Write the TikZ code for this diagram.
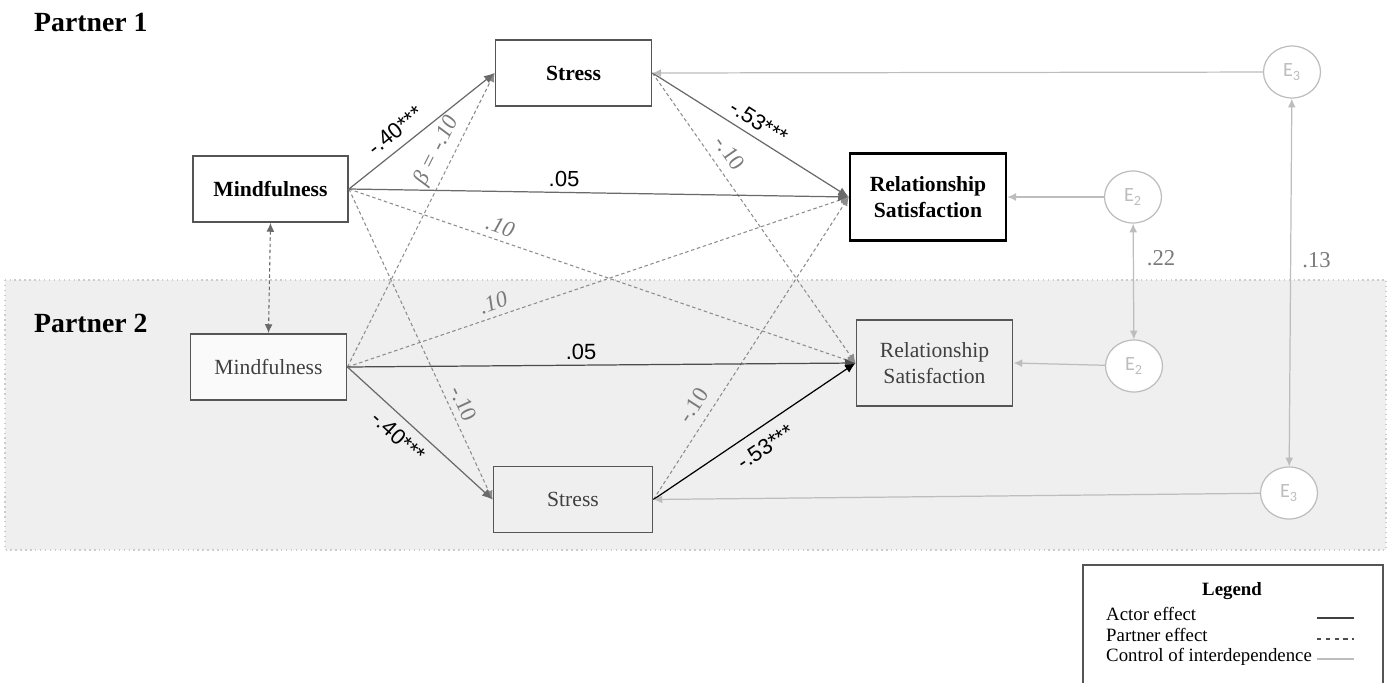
\documentclass[tikz,border=0pt]{standalone}
\usepackage{fontspec}
\setmainfont{Liberation Serif}
\setsansfont{Liberation Sans}
\newfontfamily\errfont{Carlito}
\usetikzlibrary{
  arrows.meta,
  positioning,
  shapes.geometric
}
\definecolor{bandgray}{HTML}{EFEFEF}
\definecolor{edgegray}{HTML}{6A6A6A}
\definecolor{dashgray}{HTML}{8C8C8C}
\definecolor{ctrlgray}{HTML}{BDBDBD}
\definecolor{boxgray}{HTML}{555555}
\definecolor{txtgray}{HTML}{7A7A7A}

\begin{document}
\begin{tikzpicture}[
  x=0.02cm, y=-0.02cm,
  var/.style={draw=boxgray, line width=1.1pt, minimum width=3.12cm, minimum height=1.32cm,
    align=center, inner sep=2pt, font=\fontsize{12.3}{14.5}\selectfont},
  err/.style={ellipse, draw=ctrlgray, line width=0.7pt, fill=white, minimum width=1.14cm,
    minimum height=1.04cm, inner sep=0pt, text=ctrlgray, font=\errfont\fontsize{11.5}{12}\selectfont},
  actor/.style={-{Latex[length=6pt,width=5pt]}, line width=0.7pt, edgegray},
  partner/.style={-{Latex[length=5pt,width=4.5pt]}, line width=0.6pt, dashgray,
    dash pattern=on 2pt off 1.5pt},
  control/.style={-{Latex[length=5pt,width=4.5pt]}, line width=0.7pt, ctrlgray},
  coef/.style={sloped, text=black, inner sep=2pt, font=\sffamily\fontsize{12.5}{14}\selectfont},
  weak/.style={sloped, text=txtgray, font=\fontsize{12.9}{14}\selectfont},
  title/.style={anchor=west, font=\bfseries\fontsize{15.8}{18}\selectfont}
]
  \useasboundingbox (0,0) rectangle (1387,683);

  % Partner 2 band
  \fill[bandgray] (5,280) rectangle (1386,550);
  \draw[black!20, dotted, line width=0.8pt] (5,280) rectangle (1386,550);

  \node[title] (title_1) at (28,22) {Partner 1};
  \node[title] (title_2) at (28,323) {Partner 2};

  % Partner 1
  \node[var, fill=white, font=\bfseries\fontsize{12.3}{14.5}\selectfont,
    minimum width=3.1cm] (mind_1) at (270.5,189) {Mindfulness};
  \node[var, fill=white, font=\bfseries\fontsize{12.3}{14.5}\selectfont] (stress_1) at (573.5,73) {Stress};
  \node[var, fill=white, draw=black, line width=1.4pt, minimum height=1.74cm,
    font=\bfseries\fontsize{12.3}{14.5}\selectfont] (sat_1) at (928,197) {Relationship\\Satisfaction};

  % Partner 2
  \node[var, fill=black!2, text=black!75] (mind_2) at (268.5,367) {Mindfulness};
  \node[var, fill=bandgray, text=black!75, minimum width=3.18cm] (stress_2) at (573,499.5) {Stress};
  \node[var, fill=bandgray, text=black!75, minimum height=1.72cm] (sat_2) at (934.5,363) {Relationship\\Satisfaction};

  % Errors
  \node[err] (e3_1) at (1292,72) {E\textsubscript{3}};
  \node[err] (e2_1) at (1133,197) {E\textsubscript{2}};
  \node[err] (e2_2) at (1134,366) {E\textsubscript{2}};
  \node[err] (e3_2) at (1289,493) {E\textsubscript{3}};

  % Partner effects
  \draw[partner] (mind_1.east) -- node[weak, pos=0.71, above] {-.10} (stress_2.west);
  \draw[partner] (mind_1.east) -- node[weak, pos=0.29, above, font=\itshape\fontsize{12.9}{14}\selectfont] {.10} (sat_2.west);
  \draw[partner] (mind_2.east) -- node[weak, pos=0.71, above, font=\itshape\fontsize{12.9}{14}\selectfont] {β = -.10} (stress_1.west);
  \draw[partner] (mind_2.east) -- node[weak, pos=0.30, above, font=\itshape\fontsize{12.9}{14}\selectfont] {.10} (sat_1.west);
  \draw[partner] (stress_1.east) -- node[weak, pos=0.31, above=2pt] {-.10} (sat_2.west);
  \draw[partner] (stress_2.east) -- node[weak, pos=0.28, above=2pt] {-.10} (sat_1.west);
  \draw[partner, {Latex[length=5pt,width=4.5pt]}-{Latex[length=5pt,width=4.5pt]}, edgegray]
    (mind_1.south) -- (mind_2.north);

  % Actor effects
  \draw[actor] (mind_1.east) -- node[coef, pos=0.39, above=3pt] {-.40***} (stress_1.west);
  \draw[actor] (mind_1.east) -- node[coef, pos=0.43, above=1pt] {.05} (sat_1.west);
  \draw[actor] (stress_1.east) -- node[coef, pos=0.5, above=2pt] {-.53***} (sat_1.west);
  \draw[actor, black!70] (mind_2.east) -- node[coef, pos=0.46, above=1pt] {.05} (sat_2.west);
  \draw[actor] (mind_2.east) -- node[coef, pos=0.43, below=3pt] {-.40***} (stress_2.west);
  \draw[actor, black] (stress_2.east) -- node[coef, pos=0.5, below=4pt] {-.53***} (sat_2.west);

  % Control of interdependence
  \draw[control] (e3_1) -- (stress_1.east);
  \draw[control] (e2_1) -- (sat_1.east);
  \draw[control] (e2_2) -- (sat_2.east);
  \draw[control] (e3_2) -- (stress_2.east);
  \draw[control, {Latex[length=5pt,width=4.5pt]}-{Latex[length=5pt,width=4.5pt]}] (e2_1) -- node[right=4pt, pos=0.3, text=txtgray, font=\fontsize{12.9}{14}\selectfont] {.22} (e2_2);
  \draw[control, {Latex[length=5pt,width=4.5pt]}-{Latex[length=5pt,width=4.5pt]}] (e3_1) -- node[right=3pt, pos=0.44, text=txtgray, font=\fontsize{12.9}{14}\selectfont] {.13} (e3_2);

  % Legend
  \draw[boxgray, line width=0.7pt] (1083,565) rectangle (1383,700);
  \node[font=\bfseries\fontsize{10.7}{12}\selectfont] (leg) at (1232,591) {Legend};
  \node[anchor=west, font=\fontsize{10.7}{12}\selectfont] (leg_a) at (1100,614) {Actor effect};
  \node[font=\fontsize{10.7}{12}\selectfont, below=-3pt of leg_a.south west, anchor=north west] (leg_p) {Partner effect};
  \node[font=\fontsize{10.7}{12}\selectfont, below=-3pt of leg_p.south west, anchor=north west] (leg_c) {Control of interdependence};
  \draw[black!75, line width=0.7pt] (1317,618) -- (1354,618);
  \draw[black!70, line width=0.6pt, dash pattern=on 2.5pt off 2.5pt] (1317,639) -- (1354,639);
  \draw[ctrlgray, line width=0.8pt] (1317,659) -- (1354,659);

\end{tikzpicture}
\end{document}
